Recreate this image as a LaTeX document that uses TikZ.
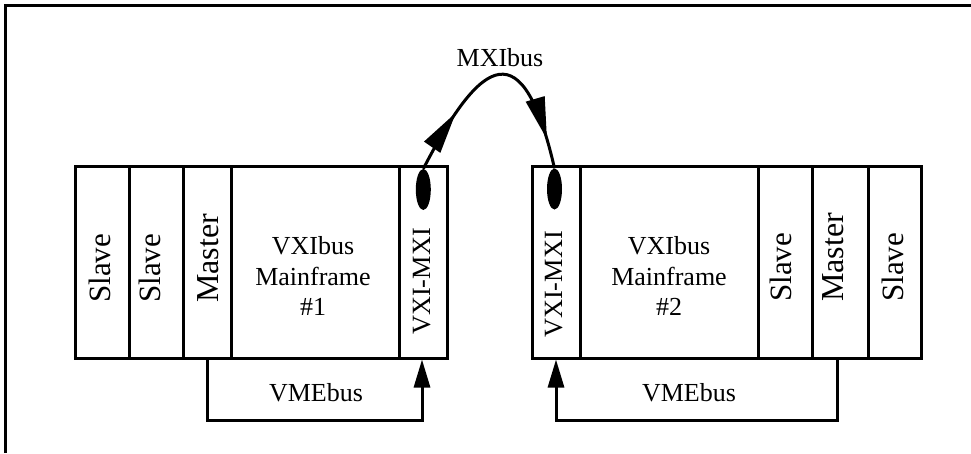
\documentclass[tikz,border=0pt]{standalone}
\usepackage{fontspec}
\setmainfont{Liberation Serif}
\usetikzlibrary{arrows.meta,decorations.markings,shapes.geometric}
\begin{document}
\begin{tikzpicture}[x=1pt,y=-1pt,
  slot/.style={draw,line width=3pt,inner sep=0pt,minimum height=192pt},
  lbl/.style={font=\fontsize{26}{30.5}\selectfont,inner sep=0pt,align=center},
  vlbl/.style={font=\fontsize{31}{33}\selectfont,inner sep=0pt,rotate=90,anchor=base west},
  mlbl/.style={vlbl,font=\fontsize{32}{34}\selectfont},
  xlbl/.style={vlbl,font=\fontsize{26.3}{30}\selectfont},
  conn/.style={line width=3pt},
  tip/.style={-{Triangle[length=28pt,width=16pt]}},
  mtip/.tip={Triangle[length=42pt,width=19pt]},
  plug/.style={ellipse,fill=black,minimum width=15pt,minimum height=41pt,inner sep=0pt}]
\useasboundingbox (0,0) rectangle (971,453);
\draw[line width=3.5pt] (5.3,453) -- (5.3,5.3) -- (971,5.3);
% mainframe 1
\node[slot,minimum width=54pt] (s1a) at (102,262) {};
\node[slot,minimum width=54pt] (s1b) at (156,262) {};
\node[slot,minimum width=48pt] (m1) at (207,262) {};
\node[slot,minimum width=168pt] (f1) at (315,262) {};
\node[slot,minimum width=48pt] (x1) at (423,262) {};
\node[vlbl] (t1a) at (110,303) {Slave};
\node[vlbl] (t1b) at (160,303) {Slave};
\node[mlbl] (t1m) at (218,303) {Master};
\node[lbl,anchor=north] (t1f) at (313,236.5) {VXIbus\\Mainframe\\\#1};
\node[xlbl] (t1x) at (430,335) {VXI-MXI};
\node[plug] (e1) at (423.3,189.5) {};
% mainframe 2
\node[slot,minimum width=48pt] (x2) at (556,262) {};
\node[slot,minimum width=178pt] (f2) at (669,262) {};
\node[slot,minimum width=54pt] (s2a) at (785,262) {};
\node[slot,minimum width=56pt] (m2) at (840,262) {};
\node[slot,minimum width=53pt] (s2b) at (894.5,262) {};
\node[xlbl] (t2x) at (562,338) {VXI-MXI};
\node[lbl,anchor=north] (t2f) at (669,236.5) {VXIbus\\Mainframe\\\#2};
\node[vlbl] (t2a) at (791,302) {Slave};
\node[mlbl] (t2m) at (843,302) {Master};
\node[vlbl] (t2b) at (903,302) {Slave};
\node[plug] (e2) at (554.5,189) {};
% VMEbus connectors
\draw[conn,tip] (m1.south) -- ++(0,61) -| ([xshift=-1pt]x1.south);
\draw[conn,tip] ([xshift=-3pt]m2.south) -- ++(0,61) -| (x2.south);
\node[lbl,anchor=base] (v1) at (316,401) {VMEbus};
\node[lbl,anchor=base] (v2) at (689,401) {VMEbus};
% MXIbus
\draw[conn,postaction={decorate},decoration={markings,
  mark=at position 0.27 with {\arrow{mtip}},
  mark=at position 0.875 with {\arrow{mtip}}}]
  (e1.north) .. controls (482,55) and (523,31) .. (e2.north);
\node[lbl,anchor=base] (mx) at (500,66.7) {MXIbus};
\end{tikzpicture}
\end{document}
